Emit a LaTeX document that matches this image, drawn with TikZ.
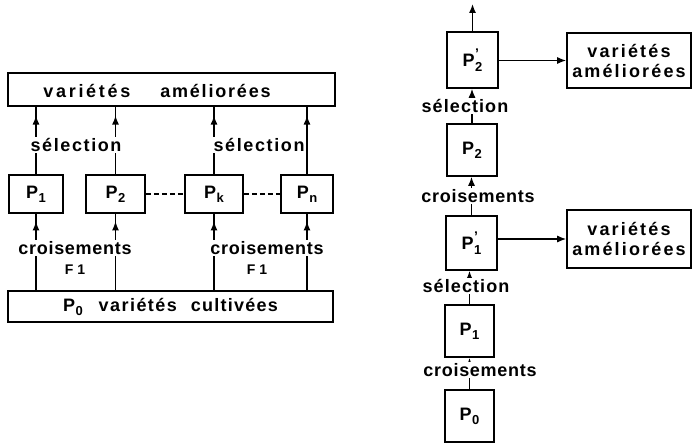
\documentclass[tikz,border=0pt]{standalone}
\usepackage{fontspec}
\setmainfont{Liberation Sans}
\usetikzlibrary{arrows.meta,decorations.markings}
\newcommand\ls[1]{\addfontfeature{LetterSpace=#1}}
\newcommand\PP[1]{P\kern0.5pt\raisebox{-4pt}{\fontsize{13}{13}\selectfont #1}}
\newcommand\PPp[1]{P\kern0.5pt\rlap{\raisebox{8pt}{\fontsize{14}{14}\selectfont ’}}\raisebox{-5pt}{\fontsize{13}{13}\selectfont #1}}
\tikzset{
  every node/.style={font=\bfseries\fontsize{18}{20}\selectfont},
  box/.style={draw, line width=1.6pt, inner sep=0pt},
  conn/.style={line width=1.3pt},
  headed/.style={-{Latex[length=9pt,width=7pt]}},
  arrowat/.style={postaction={decorate},
    decoration={markings, mark=at position #1 with {\arrow{Latex[length=9pt,width=7pt]}}}},
  lbl/.style={fill=white, inner sep=1pt},
  dotted conn/.style={line width=1.3pt, dash pattern=on 5pt off 3pt}
}
\begin{document}
\begin{tikzpicture}[x=1pt,y=-1pt]
\useasboundingbox (0,0) rectangle (692,444);
% ---------- left diagram ----------
\node[box, minimum width=327pt, minimum height=33pt] (top) at (171.5,89.5) {};
\node (toptxt) at (157,91) {{\ls{15}variétés}\hspace{30pt}{\ls{10}améliorées}};
\node[box, minimum width=54pt, minimum height=38pt] (P1) at (36,194) {\PP{1}};
\node[box, minimum width=59pt, minimum height=38pt] (P2) at (115.5,194) {\PP{2}};
\node[box, minimum width=58pt, minimum height=38pt] (Pk) at (214,194) {\PP{k}};
\node[box, minimum width=52pt, minimum height=38pt] (Pn) at (307,194) {\PP{n}};
\node[box, minimum width=325pt, minimum height=31pt] (bot) at (170.5,306.5)
  {\PP{0}\hspace{16pt}{\ls{8}variétés}\hspace{14pt}{\ls{7}cultivées}};
\foreach \p in {P1,P2,Pk,Pn}{
  \draw[conn, arrowat=0.87] (\p.north) -- (\p.north |- top.south);
  \draw[conn, arrowat=0.9] (\p.south |- bot.north) -- (\p.south);
}
\draw[dotted conn] (P2.east) -- (Pk.west);
\draw[dotted conn] (Pk.east) -- (Pn.west);
\node[lbl] (sel1) at (76,145) {\ls{9}sélection};
\node[lbl] (sel2) at (259,145) {\ls{9}sélection};
\node[lbl] (cr1) at (75,248) {\ls{4}croisements};
\node[lbl] (cr2) at (267,248) {\ls{4}croisements};
\node (f1a) at (75,270) {\fontsize{14}{14}\selectfont F\hspace{4pt}1};
\node (f1b) at (257,270) {\fontsize{14}{14}\selectfont F\hspace{4pt}1};
% ---------- right diagram ----------
\node[box, minimum width=51pt, minimum height=56pt] (Q2p) at (472.5,60) {\PPp{2}};
\node[box, minimum width=50pt, minimum height=52pt] (Q2) at (472,150) {\PP{2}};
\node[box, minimum width=51pt, minimum height=54pt] (Q1p) at (471.5,243) {\PPp{1}};
\node[box, minimum width=49pt, minimum height=52pt] (Q1) at (469.5,331) {\PP{1}};
\node[box, minimum width=49pt, minimum height=52pt] (Q0) at (469.5,416) {\PP{0}};
\node[box, minimum width=124pt, minimum height=55pt, align=center] (B1) at (629,60.5)
  {\ls{12}variétés\\\ls{12}améliorées};
\node[box, minimum width=124pt, minimum height=58pt, align=center] (B2) at (629,239)
  {\ls{12}variétés\\\ls{12}améliorées};
\coordinate (topend) at (472.5,4);
\draw[conn, headed] (Q2p.north) -- (topend);
\draw[conn, headed] (Q2.north) -- (Q2.north |- Q2p.south);
\draw[conn, headed] (Q1p.north) -- (Q1p.north |- Q2.south);
\draw[conn, headed] (Q1.north) -- (Q1.north |- Q1p.south);
\draw[conn, headed] (Q0.north) -- (Q0.north |- Q1.south);
\draw[conn, headed] (Q2p.east |- B1.west) -- (B1.west);
\draw[conn, headed] (Q1p.east |- B2.west) -- (B2.west);
\node[lbl] (rsel1) at (465,106) {\ls{6}sélection};
\node[lbl] (rcr1) at (478,196) {\ls{4}croisements};
\node[lbl] (rsel2) at (466,286) {\ls{6}sélection};
\node[lbl] (rcr2) at (480,370) {\ls{4}croisements};
\end{tikzpicture}
\end{document}
